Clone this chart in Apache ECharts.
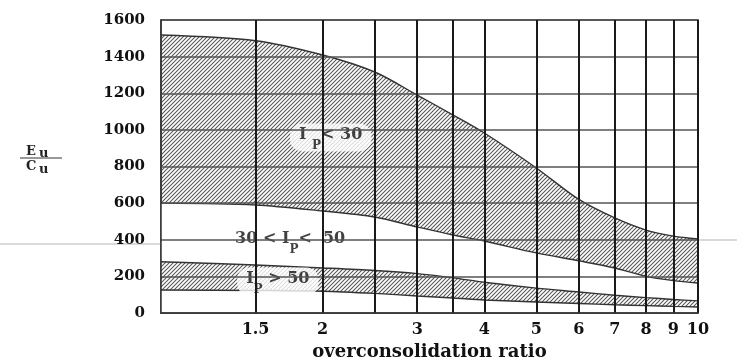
<!DOCTYPE html>
<html><head><meta charset="utf-8">
<script src="https://cdn.jsdelivr.net/npm/echarts@6/dist/echarts.min.js"></script>
<style>html,body{margin:0;padding:0;background:#fff}#c{width:737px;height:358px}</style>
</head><body><div id="c"></div>
<script>
// ---- data ----
const ocr = [1, 1.5, 2, 2.5, 3, 3.5, 4, 5, 6, 7, 8, 9, 10];
const ip30Upper = [1518, 1487, 1409, 1316, 1190, 1081, 983, 792, 620, 519, 453, 420, 404];
const ip30Lower = [600, 590, 557, 524, 470, 426, 393, 328, 285, 246, 200, 177, 164];
const ip50Upper = [280, 262, 246, 232, 215, 192, 168, 136, 115, 97, 84, 74, 66];
const ip50Lower = [126, 123, 119, 107, 93, 82, 71, 60, 52, 45, 40, 36, 33];
const xLabelValues = [1.5, 2, 3, 4, 5, 6, 7, 8, 9, 10];
const xGridValues = [1.5, 2, 2.5, 3, 3.5, 4, 5, 6, 7, 8, 9, 10];
const yMin = 0, yMax = 1600, yStep = 200;
const annotations = [
  {x: 2.07, y: 959, text: '{t|I }{s|P}{t|< 30}', blob: true},
  {x: 1.74, y: 391, text: '{t|30 < I}{s|P}{t|<  50}', blob: false},
  {x: 1.65, y: 172, text: '{t|I}{s|P}{t| > 50}', blob: true}
];

// ---- hatch pattern ----
const pc = document.createElement('canvas');
pc.width = 4; pc.height = 4;
const g = pc.getContext('2d');
g.strokeStyle = '#555';
g.lineWidth = 1.05;
g.beginPath();
g.moveTo(-1, 5); g.lineTo(5, -1);
g.moveTo(-3, 3); g.lineTo(3, -3);
g.moveTo(1, 7); g.lineTo(7, 1);
g.stroke();
const hatch = {image: pc, repeat: 'repeat'};

const FONT = 'DejaVu Serif';
const edge = {color: '#333', width: 1.4};

// each band: upper curve filled with hatching down to the axis,
// then lower curve filled with white down to the axis (grid lines are drawn above)
function curve(values, fill) {
  return {
    type: 'line', smooth: 0.3, symbol: 'none', z: 1, silent: true,
    data: ocr.map((x, i) => [x, values[i]]),
    lineStyle: edge,
    areaStyle: {color: fill, opacity: 1}
  };
}

const series = [
  curve(ip30Upper, hatch),
  curve(ip30Lower, '#fff'),
  curve(ip50Upper, hatch),
  curve(ip50Lower, '#fff')
];

series.push({
  type: 'scatter', symbol: 'rect', symbolSize: 1, z: 2, silent: true,
  itemStyle: {color: 'rgba(0,0,0,0)'},
  data: annotations.map(a => ({
    value: [a.x, a.y],
    label: {
      show: true, position: 'inside',
      formatter: a.text,
      backgroundColor: a.blob ? '#fff' : 'transparent',
      borderRadius: 12,
      padding: [3, 9, 0, 9],
      rich: {
        t: {fontFamily: FONT, fontWeight: 'bold', fontSize: 16, color: '#111', verticalAlign: 'top'},
        s: {fontFamily: FONT, fontWeight: 'bold', fontSize: 12, color: '#111', lineHeight: 25, verticalAlign: 'bottom'}
      }
    }
  }))
});

const chart = echarts.init(document.getElementById('c'), null, {renderer: 'canvas'});
chart.setOption({
  animation: false,
  backgroundColor: '#fff',
  grid: {left: 161, right: 39, top: 20, bottom: 45, containLabel: false, outerBoundsMode: 'none',
    show: true, borderColor: '#333', borderWidth: 1.5},
  xAxis: {
    type: 'log', logBase: 10, min: 1, max: 10, z: 3,
    name: 'overconsolidation ratio', nameLocation: 'middle', nameGap: 29,
    nameTextStyle: {fontFamily: FONT, fontWeight: 'bold', fontSize: 18, color: '#111'},
    axisLine: {show: true, lineStyle: {color: '#333', width: 1.5}},
    axisTick: {show: false, customValues: xGridValues},
    axisLabel: {customValues: xLabelValues, fontFamily: FONT, fontWeight: 'bold', fontSize: 16, color: '#111', margin: 9,
      formatter: v => String(v)},
    splitLine: {show: true, lineStyle: {color: '#1a1a1a', width: 2}},
    minorSplitLine: {show: false}
  },
  yAxis: {
    type: 'value', min: yMin, max: yMax, interval: yStep, z: 3,
    axisLine: {show: true, lineStyle: {color: '#333', width: 1.5}},
    axisTick: {show: false},
    axisLabel: {fontFamily: FONT, fontWeight: 'bold', fontSize: 15, color: '#111', margin: 16,
      formatter: v => String(v)},
    splitLine: {show: true, lineStyle: {color: '#555', width: 1.5}}
  },
  graphic: [
    {type: 'line', shape: {x1: 0, y1: 244, x2: 161, y2: 244}, style: {stroke: '#b5b5b5', lineWidth: 1}, z: 0},
    {type: 'line', shape: {x1: 699, y1: 240, x2: 737, y2: 240}, style: {stroke: '#b5b5b5', lineWidth: 1}, z: 0},
    {type: 'text', x: 26, y: 145, style: {text: 'E', font: 'bold 13px "DejaVu Serif"', fill: '#222'}},
    {type: 'text', x: 39, y: 147, style: {text: 'u', font: 'bold 13px "DejaVu Serif"', fill: '#222'}},
    {type: 'line', shape: {x1: 20, y1: 158, x2: 62, y2: 158}, style: {stroke: '#333', lineWidth: 1}},
    {type: 'text', x: 26, y: 160, style: {text: 'C', font: 'bold 13px "DejaVu Serif"', fill: '#222'}},
    {type: 'text', x: 39, y: 163, style: {text: 'u', font: 'bold 13px "DejaVu Serif"', fill: '#222'}}
  ],
  series: series
});
</script></body></html>
